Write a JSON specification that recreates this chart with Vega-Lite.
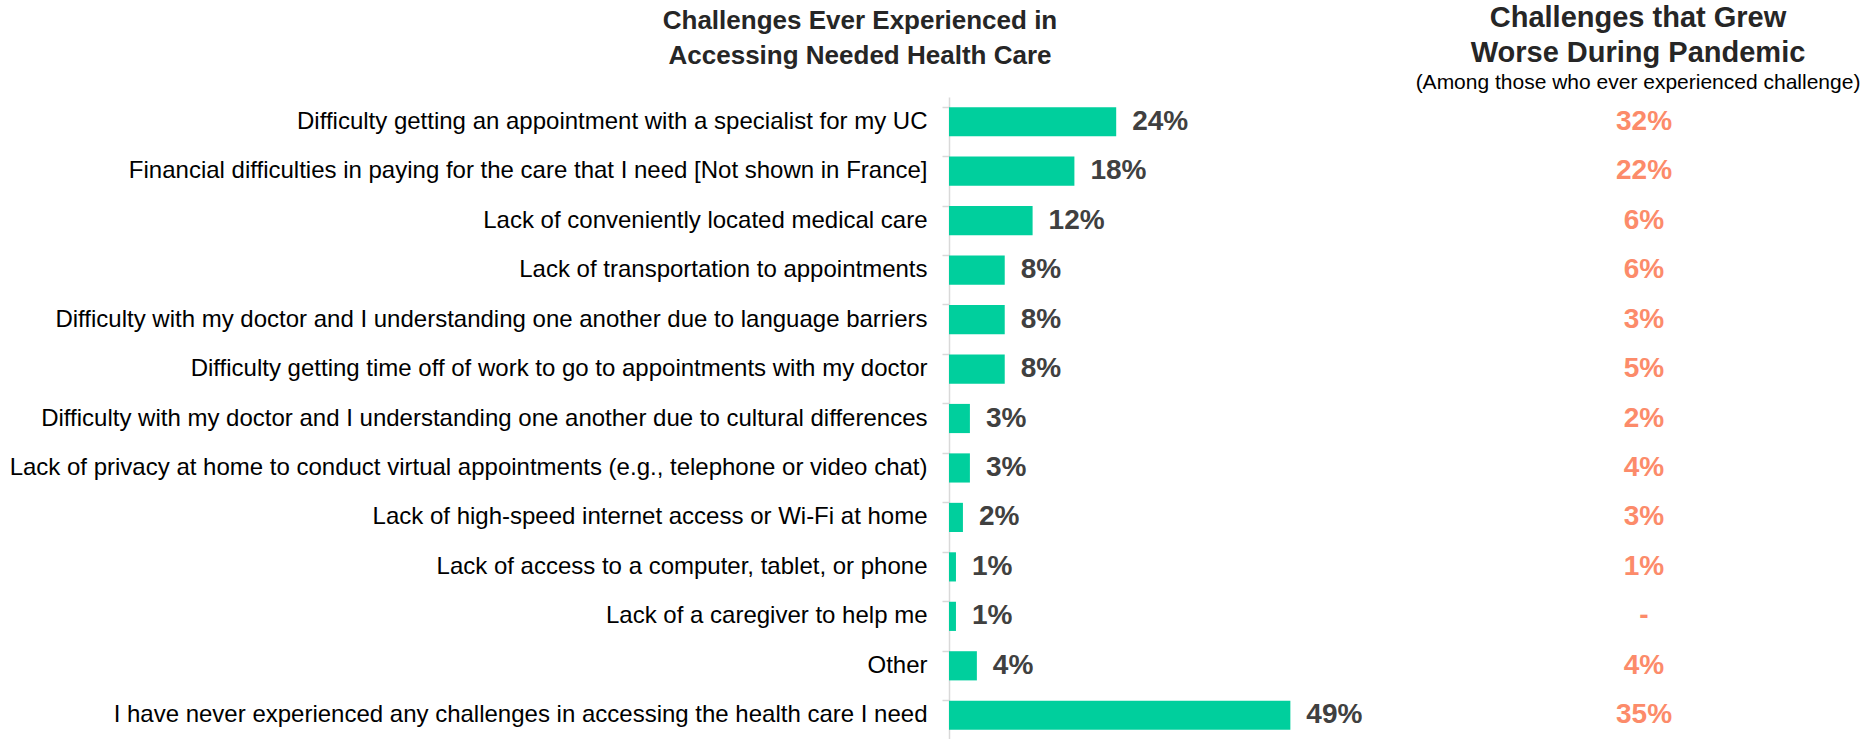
{
  "$schema": "https://vega.github.io/schema/vega-lite/v6.json",
  "background": "white",
  "padding": {"left": 9, "top": 4, "right": 0, "bottom": 0},
  "config": {
    "view": {"stroke": null},
    "font": "Liberation Sans",
    "concat": {"spacing": 127}
  },
  "bounds": "flush",
  "data": {
    "values": [
      {"challenge": "Difficulty getting an appointment with a specialist for my UC", "ever": 24, "everLabel": "24%", "worse": "32%"},
      {"challenge": "Financial difficulties in paying for the care that I need [Not shown in France]", "ever": 18, "everLabel": "18%", "worse": "22%"},
      {"challenge": "Lack of conveniently located medical care", "ever": 12, "everLabel": "12%", "worse": "6%"},
      {"challenge": "Lack of transportation to appointments", "ever": 8, "everLabel": "8%", "worse": "6%"},
      {"challenge": "Difficulty with my doctor and I understanding one another due to language barriers", "ever": 8, "everLabel": "8%", "worse": "3%"},
      {"challenge": "Difficulty getting time off of work to go to appointments with my doctor", "ever": 8, "everLabel": "8%", "worse": "5%"},
      {"challenge": "Difficulty with my doctor and I understanding one another due to cultural differences", "ever": 3, "everLabel": "3%", "worse": "2%"},
      {"challenge": "Lack of privacy at home to conduct virtual appointments (e.g., telephone or video chat)", "ever": 3, "everLabel": "3%", "worse": "4%"},
      {"challenge": "Lack of high-speed internet access or Wi-Fi at home", "ever": 2, "everLabel": "2%", "worse": "3%"},
      {"challenge": "Lack of access to a computer, tablet, or phone", "ever": 1, "everLabel": "1%", "worse": "1%"},
      {"challenge": "Lack of a caregiver to help me", "ever": 1, "everLabel": "1%", "worse": "-"},
      {"challenge": "Other", "ever": 4, "everLabel": "4%", "worse": "4%"},
      {"challenge": "I have never experienced any challenges in accessing the health care I need", "ever": 49, "everLabel": "49%", "worse": "35%"}
    ]
  },
  "hconcat": [
    {
      "width": 418,
      "height": 643,
      "title": {
        "text": ["Challenges Ever Experienced in", "Accessing Needed Health Care"],
        "fontSize": 26,
        "fontWeight": "bold",
        "color": "#262626",
        "lineHeight": 35,
        "anchor": "middle",
        "frame": "group",
        "dx": -298,
        "offset": 28
      },
      "encoding": {
        "y": {
          "field": "challenge",
          "type": "nominal",
          "sort": null,
          "scale": {"paddingInner": 0.41, "paddingOuter": 0.205},
          "axis": {
            "title": null,
            "bandPosition": 0,
            "labelLimit": 1200,
            "labelFontSize": 24,
            "labelColor": "#000000",
            "labelPadding": 15,
            "tickColor": "#d9d9d9",
            "tickSize": 7,
            "domainColor": "#d9d9d9",
            "domainWidth": 1.5,
            "tickWidth": 1.5
          }
        },
        "x": {
          "field": "ever",
          "type": "quantitative",
          "scale": {"domain": [0, 60]},
          "axis": null
        }
      },
      "layer": [
        {"mark": {"type": "bar", "color": "#00CF9D"}},
        {
          "mark": {"type": "text", "align": "left", "baseline": "middle", "dx": 16, "fontSize": 28, "fontWeight": "bold", "color": "#404040"},
          "encoding": {"text": {"field": "everLabel"}}
        }
      ]
    },
    {
      "width": 300,
      "height": 643,
      "title": {
        "text": ["Challenges that Grew", "Worse During Pandemic"],
        "subtitle": "(Among those who ever experienced challenge)",
        "fontSize": 29,
        "fontWeight": "bold",
        "color": "#262626",
        "lineHeight": 35,
        "subtitleFontSize": 21,
        "subtitleColor": "#000000",
        "subtitlePadding": 4,
        "anchor": "middle",
        "frame": "group",
        "dx": -6,
        "offset": 4
      },
      "mark": {"type": "text", "baseline": "middle", "align": "center", "fontSize": 28, "fontWeight": "bold", "color": "#FC8B6A"},
      "encoding": {
        "y": {
          "field": "challenge",
          "type": "nominal",
          "sort": null,
          "scale": {"paddingInner": 0.41, "paddingOuter": 0.205},
          "axis": null
        },
        "text": {"field": "worse"}
      }
    }
  ]
}
